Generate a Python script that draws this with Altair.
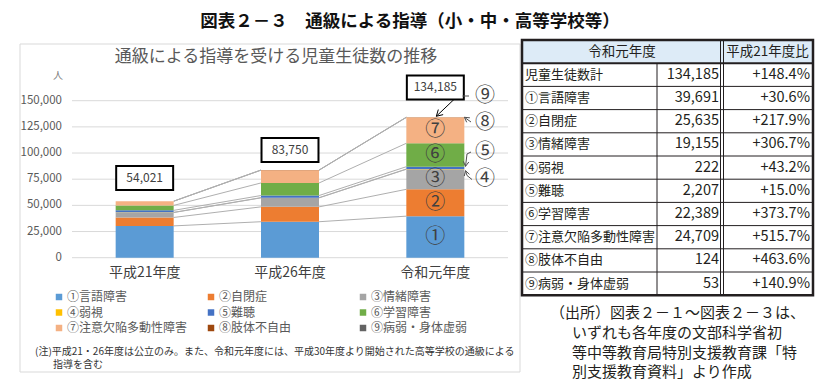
import math
import altair as alt
import pandas as pd

# ---------------- data ----------------
years = ["平成21年度", "平成26年度", "令和元年度"]
series = ["①言語障害", "②自閉症", "③情緒障害", "④弱視", "⑤難聴",
          "⑥学習障害", "⑦注意欠陥多動性障害", "⑧肢体不自由", "⑨病弱・身体虚弱"]
h21 = [30390, 8064, 4710, 155, 1919, 4726, 4013, 22, 22]
h26 = [34375, 14189, 8613, 161, 2052, 12006, 12213, 82, 59]
r01 = [39691, 25635, 19155, 222, 2207, 22389, 24709, 124, 53]
totals = [54021, 83750, 134185]
series_colors = ["#5B9BD5", "#ED7D31", "#A5A5A5", "#FFC000", "#4472C4",
                 "#70AD47", "#F4B183", "#9E480E", "#636363"]
y_ticks = [0, 25000, 50000, 75000, 100000, 125000, 150000]

table_labels = ["児童生徒数計", "①言語障害", "②自閉症", "③情緒障害", "④弱視", "⑤難聴",
                "⑥学習障害", "⑦注意欠陥多動性障害", "⑧肢体不自由", "⑨病弱・身体虚弱"]
table_values = [134185, 39691, 25635, 19155, 222, 2207, 22389, 24709, 124, 53]
table_pct = [148.4, 30.6, 217.9, 306.7, 43.2, 15.0, 373.7, 515.7, 463.6, 140.9]

main_title = "図表２－３　通級による指導（小・中・高等学校等）"
chart_title = "通級による指導を受ける児童生徒数の推移"
note_lines = ["(注)平成21・26年度は公立のみ。また、令和元年度には、平成30年度より開始された高等学校の通級による",
              "指導を含む"]
source_lines = ["（出所）図表２－１～図表２－３は、", "いずれも各年度の文部科学省初",
                "等中等教育局特別支援教育課「特", "別支援教育資料」より作成"]

# ---------------- layout helpers ----------------
FONT = "Noto Sans CJK JP"
W, H = 819, 375
def P(v):  # page px -> plot px
    return v - 8

X0, X1 = 64, 500          # plot px of category axis
YB, YT = 249.7, 92.7      # plot px of 0 and 150,000
STEP = (X1 - X0) / 3
YMAX = 150000

def ux(px):   # page px -> category units
    return (px - 8 - X0) / STEP - 0.5
def uy(py):   # page px -> data units
    return (YB + 8 - py) * YMAX / (YB - YT)
def px_of(u):
    return X0 + (u + 0.5) * STEP + 8
def py_of(v):
    return YB + 8 - v * (YB - YT) / YMAX
PXU = YMAX / (YB - YT)    # data units per pixel

xband = alt.Scale(domain=years, range=[X0, X1], paddingInner=0, paddingOuter=0)
xlin = alt.Scale(domain=[-0.5, 2.5], range=[X0, X1])
ylin = alt.Scale(domain=[0, YMAX], range=[YB, YT], nice=False, zero=False)

all_vals = [h21, h26, r01]
rows = []
cum = []
for i, yr in enumerate(years):
    c = 0
    tops = []
    for k, s in enumerate(series):
        v = all_vals[i][k]
        rows.append({"year": yr, "series": s, "k": k, "y0": c, "y1": c + v})
        c += v
        tops.append(c)
    cum.append(tops)
bar_df = pd.DataFrame(rows)

layers = []

# panel border
layers.append(alt.Chart(pd.DataFrame({"a": [0]})).mark_rect(
    fill=None, stroke="#D9D9D9", strokeWidth=1).encode(
    x=alt.value(P(20)), x2=alt.value(P(520)), y=alt.value(P(44)), y2=alt.value(P(372))))

# gridlines
grid_df = pd.DataFrame({"v": y_ticks, "lab": [f"{v:,}" for v in y_ticks]})
layers.append(alt.Chart(grid_df).mark_rule(color="#D9D9D9", strokeWidth=1).encode(
    y=alt.Y("v:Q", scale=ylin, axis=None), x=alt.value(X0), x2=alt.value(X1)))
layers.append(alt.Chart(grid_df).mark_text(
    align="right", baseline="middle", fontSize=11.5, color="#595959", font=FONT).encode(
    y=alt.Y("v:Q", scale=ylin, axis=None), x=alt.value(P(62)), text="lab:N"))

# connector lines
conn = []
for g in range(2):
    for k in range(len(series)):
        conn.append({"x": g + 0.2, "x2": g + 0.8, "y": cum[g][k], "y2": cum[g + 1][k]})
layers.append(alt.Chart(pd.DataFrame(conn)).mark_rule(color="#AFAFAF", strokeWidth=1).encode(
    x=alt.X("x:Q", scale=xlin, axis=None), x2="x2:Q",
    y=alt.Y("y:Q", scale=ylin, axis=None), y2="y2:Q"))

# bars
layers.append(alt.Chart(bar_df).mark_bar(size=58).encode(
    x=alt.X("year:N", scale=xband, axis=None),
    y=alt.Y("y0:Q", scale=ylin, axis=None), y2="y1:Q",
    color=alt.Color("series:N", scale=alt.Scale(domain=series, range=series_colors),
                    legend=alt.Legend(orient="none", legendX=P(53), legendY=P(291),
                                      columns=3, direction="horizontal", gridAlign="all",
                                      title=None,
                                      symbolType="square", symbolSize=42, symbolStrokeWidth=0,
                                      labelFontSize=12, labelFont=FONT, labelColor="#595959",
                                      labelOffset=2, labelLimit=220,
                                      columnPadding=17, rowPadding=3.5))))

# category labels
layers.append(alt.Chart(pd.DataFrame({"year": years})).mark_text(
    fontSize=14, color="#404040", font=FONT, baseline="middle").encode(
    x=alt.X("year:N", scale=xband, axis=None), y=alt.value(P(273)), text="year:N"))

# total label boxes
label_lift_px = [23.2, 20.0, 29.8]
box_rows = []
for i, t in enumerate(totals):
    yc = t + label_lift_px[i] * PXU
    box_rows.append({"x": i - 0.196, "x2": i + 0.196, "xc": i, "y": yc - 12 * PXU,
                     "y2": yc + 12 * PXU, "yc": yc, "lab": f"{t:,}"})
box_df = pd.DataFrame(box_rows)
layers.append(alt.Chart(box_df).mark_rect(fill="white", stroke="black", strokeWidth=2).encode(
    x=alt.X("x:Q", scale=xlin, axis=None), x2="x2:Q",
    y=alt.Y("y:Q", scale=ylin, axis=None), y2="y2:Q"))
layers.append(alt.Chart(box_df).mark_text(fontSize=12, color="#404040", font=FONT).encode(
    x=alt.X("xc:Q", scale=xlin, axis=None), y=alt.Y("yc:Q", scale=ylin, axis=None), text="lab:N"))

# circled numbers inside the last bar
inner = []
for k in [0, 1, 2, 5, 6]:
    lo = cum[2][k - 1] if k > 0 else 0
    inner.append({"x": 2, "y": (lo + cum[2][k]) / 2, "t": series[k][0]})
layers.append(alt.Chart(pd.DataFrame(inner)).mark_text(
    fontSize=20, color="#404040", font=FONT, baseline="middle").encode(
    x=alt.X("x:Q", scale=xlin, axis=None), y=alt.Y("y:Q", scale=ylin, axis=None), text="t:N"))

# outer circled labels
outer = [("⑨", 485, 96), ("⑧", 485, 123), ("⑤", 485, 152), ("④", 485, 179)]
layers.append(alt.Chart(pd.DataFrame(
    [{"x": ux(a), "y": uy(b), "t": t} for t, a, b in outer])).mark_text(
    fontSize=20, color="#404040", font=FONT, baseline="middle").encode(
    x=alt.X("x:Q", scale=xlin, axis=None), y=alt.Y("y:Q", scale=ylin, axis=None), text="t:N"))

# leader lines and arrows (page px)
def head(tip, prev, L=5.5, ang=30):
    dx, dy = prev[0] - tip[0], prev[1] - tip[1]
    n = math.hypot(dx, dy)
    dx, dy = dx / n, dy / n
    out = []
    for s in (-1, 1):
        a = math.radians(ang * s)
        out.append((tip[0] + L * (dx * math.cos(a) - dy * math.sin(a)),
                    tip[1] + L * (dx * math.sin(a) + dy * math.cos(a))))
    return [out[0], tip, out[1]]

top_px = (px_of(2.2), py_of(cum[2][7]))
mid5 = py_of((cum[2][3] + cum[2][4]) / 2)
mid4 = py_of((cum[2][2] + cum[2][3]) / 2)
paths = {
    "l9": [(462.5, 96), (469, 96)],
    "l8": [(471, 122), top_px],
    "l5": [(471, 152), (467, 154), (465.5, mid5 - 1.5)],
    "l4": [(472, 179.5), (467, 175.5), (465.5, mid4 + 1.5)],
    "lb": [(454, py_of(box_rows[2]["yc"]) + 12), (px_of(2) + 1, py_of(totals[2]) - 1)],
}
paths["h8"] = head(paths["l8"][-1], paths["l8"][-2])
paths["h5"] = head(paths["l5"][-1], paths["l5"][-2])
paths["h4"] = head(paths["l4"][-1], paths["l4"][-2])
paths["hb"] = head(paths["lb"][-1], paths["lb"][-2], L=7)
lead = []
for pid, pts in paths.items():
    for o, (a, b) in enumerate(pts):
        lead.append({"id": pid, "o": o, "x": ux(a), "y": uy(b),
                     "c": "#000000" if pid in ("lb", "hb") else "#505050"})
layers.append(alt.Chart(pd.DataFrame(lead)).mark_line(strokeWidth=1).encode(
    x=alt.X("x:Q", scale=xlin, axis=None), y=alt.Y("y:Q", scale=ylin, axis=None),
    detail="id:N", order="o:Q", color=alt.Color("c:N", scale=None)))

# unit, chart title, note, main title
def txt(t, x, y, size, color="#404040", align="center", weight="normal"):
    return alt.Chart(pd.DataFrame({"t": [t]})).mark_text(
        fontSize=size, color=color, align=align, baseline="middle", font=FONT,
        fontWeight=weight).encode(x=alt.value(P(x)), y=alt.value(P(y)), text="t:N")

layers.append(txt("人", 58, 76, 10, "#7F7F7F"))
layers.append(txt(chart_title, 276, 57, 17, "#595959"))
layers.append(txt(note_lines[0], 35, 352, 10, "#333333", "left"))
layers.append(txt(note_lines[1], 53, 365, 10, "#333333", "left"))
layers.append(txt(main_title, 410, 22, 17.5, "#111111", "center", "bold"))
for i, line in enumerate(source_lines):
    layers.append(txt(line, 550 if i == 0 else 572, 313 + i * 19.8, 15, "#231F20", "left"))

# ---------------- table ----------------
TL, TC1, TC2, TR = 522, 657, 722, 813
tscale = alt.Scale(domain=[0, 11], range=[P(40), P(295.2)], nice=False, zero=False)
layers.append(alt.Chart(pd.DataFrame({"r0": [0], "r1": [1]})).mark_rect(fill="#DDEBF7").encode(
    x=alt.value(P(TL)), x2=alt.value(P(TR)),
    y=alt.Y("r0:Q", scale=tscale, axis=None), y2="r1:Q"))
hl = pd.DataFrame({"r": list(range(2, 11))})
layers.append(alt.Chart(hl).mark_rule(color="#231F20", strokeWidth=1).encode(
    x=alt.value(P(TL)), x2=alt.value(P(TR)), y=alt.Y("r:Q", scale=tscale, axis=None)))
layers.append(alt.Chart(pd.DataFrame({"r": [1]})).mark_rule(color="#231F20", strokeWidth=2).encode(
    x=alt.value(P(TL)), x2=alt.value(P(TR)), y=alt.Y("r:Q", scale=tscale, axis=None)))
vl = pd.DataFrame({"r0": [1, 0, 0], "r1": [11, 11, 11], "xp": [P(TC1), P(TC2 - 1.5), P(TC2 + 1.5)]})
layers.append(alt.Chart(vl).mark_rule(color="#231F20", strokeWidth=1).encode(
    x=alt.X("xp:Q", scale=None), y=alt.Y("r0:Q", scale=tscale, axis=None), y2="r1:Q"))
layers.append(alt.Chart(pd.DataFrame({"r0": [0], "r1": [11]})).mark_rect(
    fill=None, stroke="#231F20", strokeWidth=2.5).encode(
    x=alt.value(P(TL)), x2=alt.value(P(TR)),
    y=alt.Y("r0:Q", scale=tscale, axis=None), y2="r1:Q"))

tab = pd.DataFrame({
    "r": [i + 1.5 for i in range(len(table_labels))],
    "lab": table_labels,
    "val": [f"{v:,}" for v in table_values],
    "pct": [f"+{p:.1f}%" for p in table_pct],
})
layers.append(alt.Chart(tab).mark_text(align="left", baseline="middle", fontSize=13,
                                       color="#231F20", font=FONT).encode(
    x=alt.value(P(TL + 3)), y=alt.Y("r:Q", scale=tscale, axis=None), text="lab:N"))
layers.append(alt.Chart(tab).mark_text(align="right", baseline="middle", fontSize=14.5,
                                       color="#231F20", font=FONT).encode(
    x=alt.value(P(TC2 - 3)), y=alt.Y("r:Q", scale=tscale, axis=None), text="val:N"))
layers.append(alt.Chart(tab).mark_text(align="right", baseline="middle", fontSize=14.5,
                                       color="#231F20", font=FONT).encode(
    x=alt.value(P(TR - 3)), y=alt.Y("r:Q", scale=tscale, axis=None), text="pct:N"))
hdr = pd.DataFrame({"r": [0.5, 0.5], "t": ["令和元年度", "平成21年度比"],
                    "xp": [P((TL + TC2) / 2), P((TC2 + TR) / 2)]})
layers.append(alt.Chart(hdr).mark_text(baseline="middle", fontSize=13.5, color="#231F20",
                                       font=FONT).encode(
    x=alt.X("xp:Q", scale=None), y=alt.Y("r:Q", scale=tscale, axis=None), text="t:N"))

chart = alt.layer(*layers).resolve_scale(
    x="independent", y="independent", color="independent"
).properties(
    width=W, height=H, padding=0, background="white",
    autosize=alt.AutoSizeParams(type="none"),
).configure_view(stroke=None)

chart.save("out.html", embed_options={"renderer": "svg", "actions": False})
